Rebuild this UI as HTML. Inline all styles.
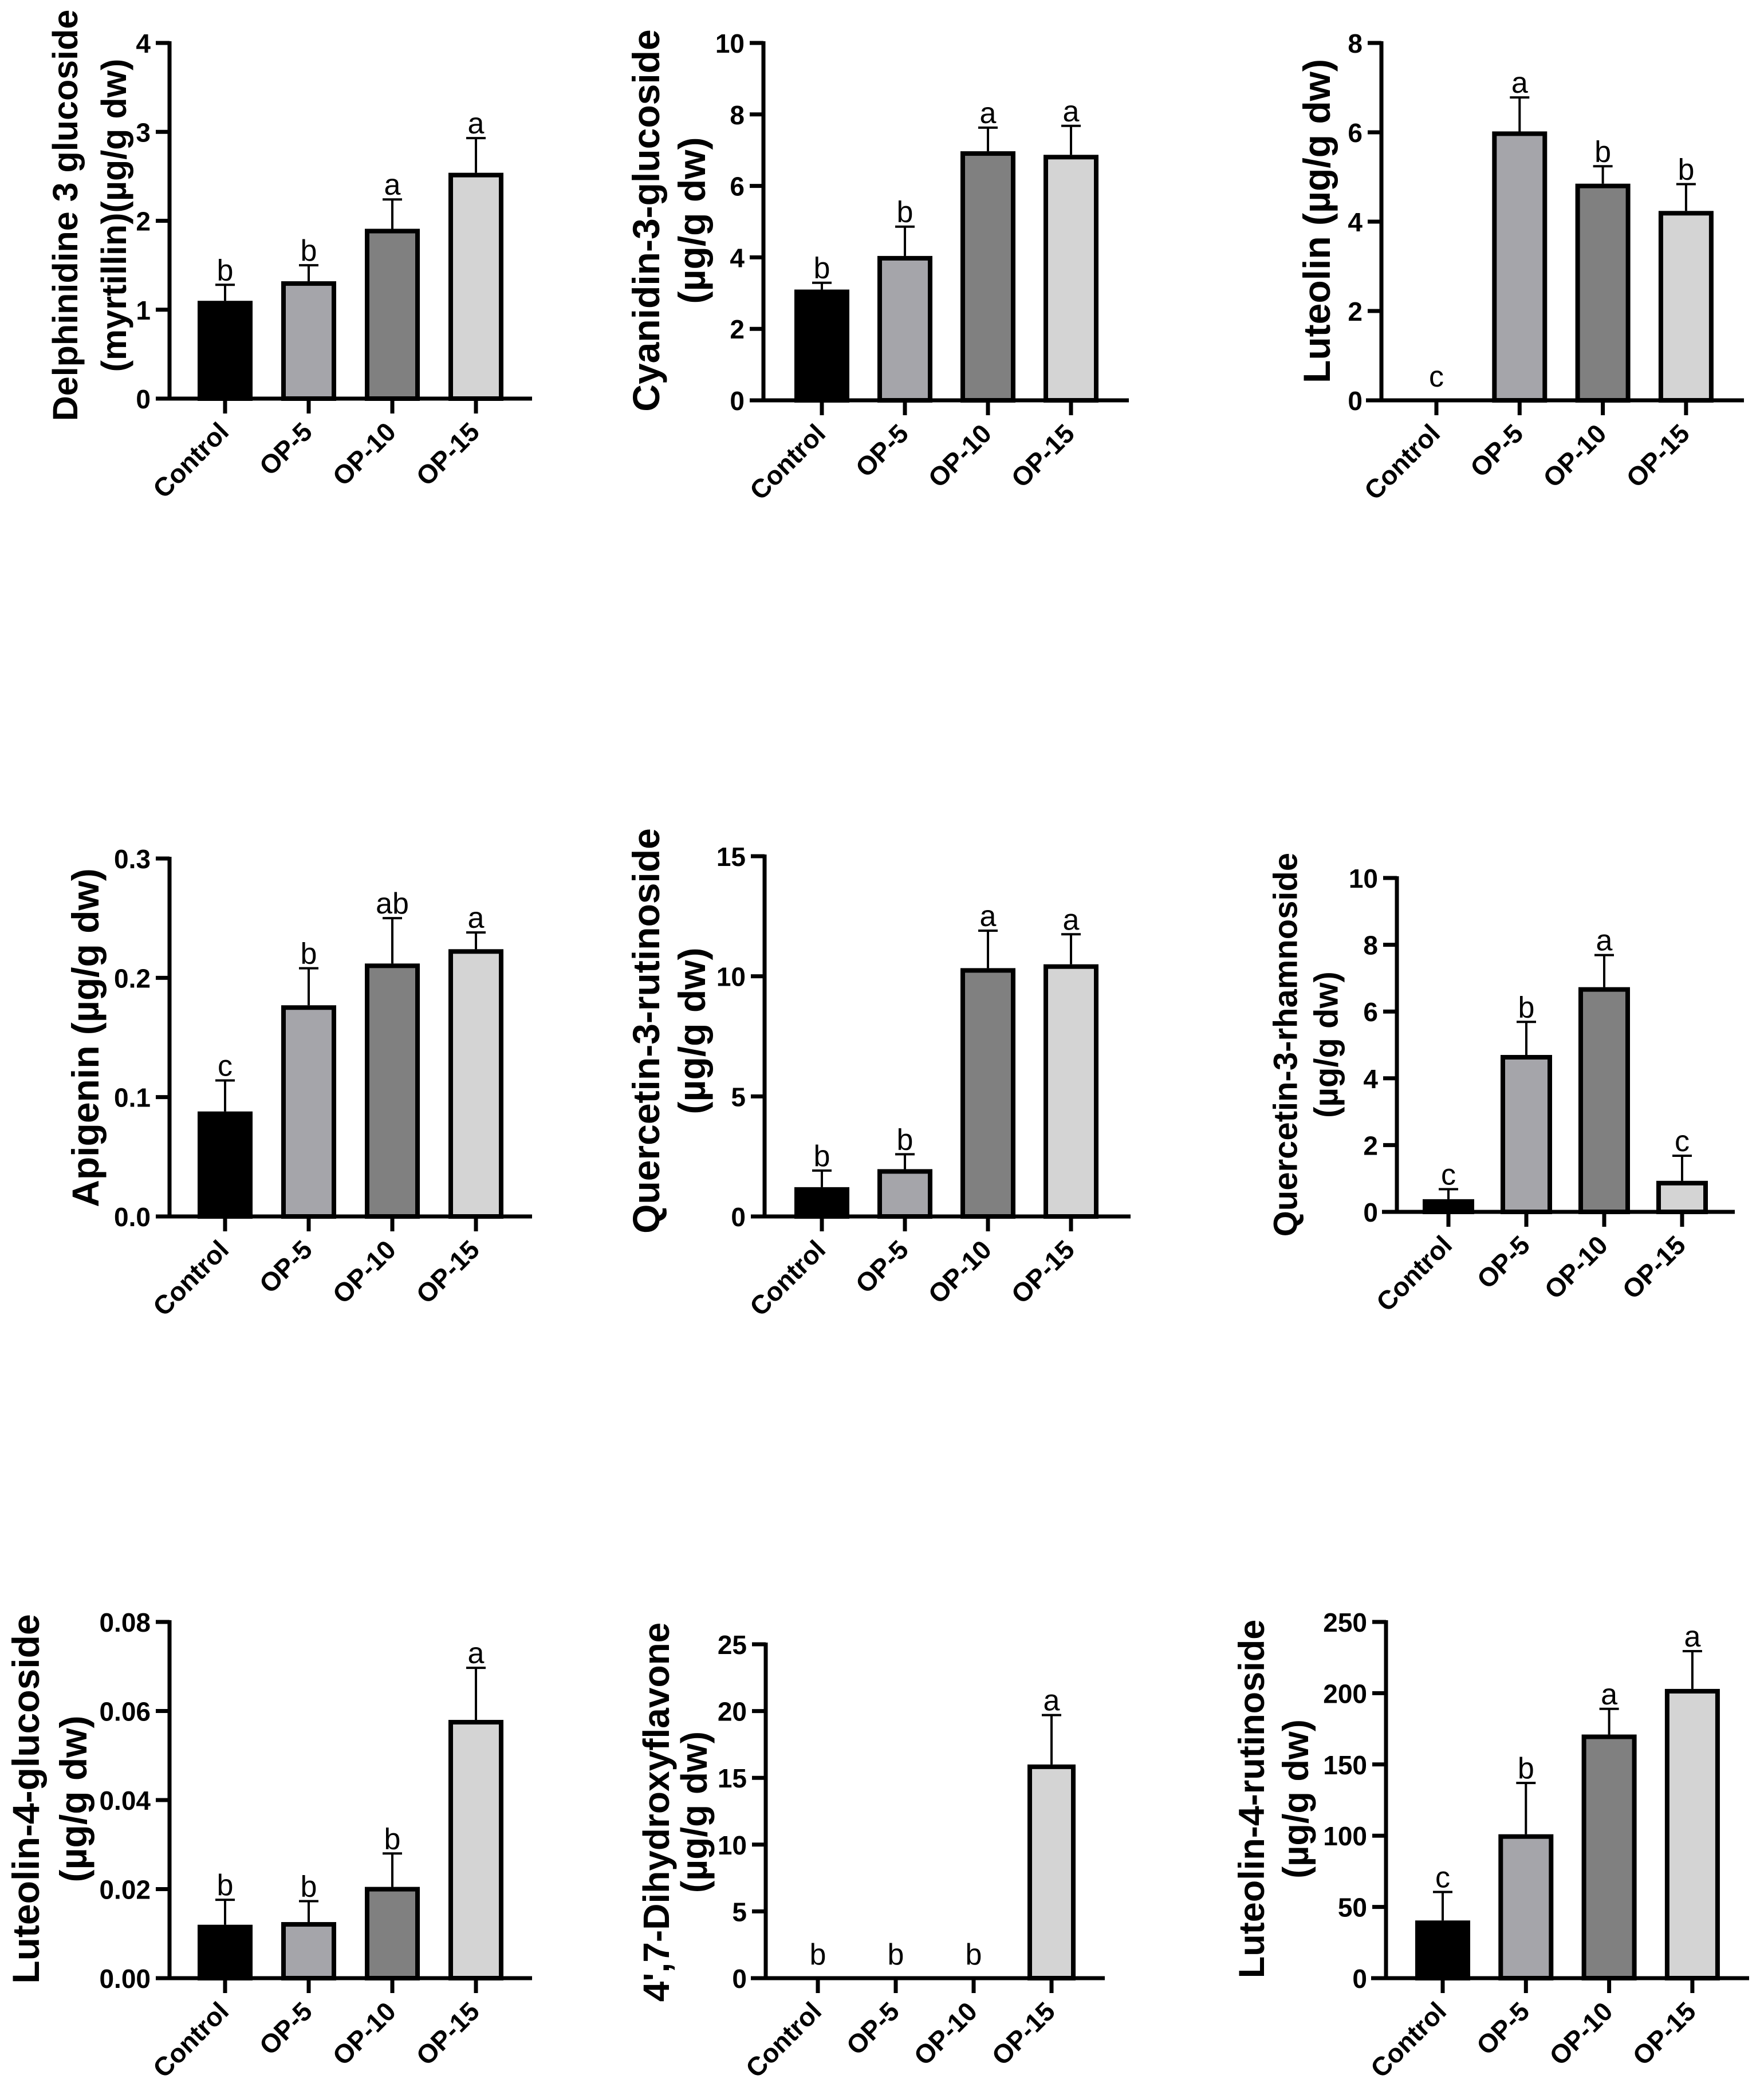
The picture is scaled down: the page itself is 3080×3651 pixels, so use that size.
<!DOCTYPE html>
<html>
<head>
<meta charset="utf-8">
<style>
html,body{margin:0;padding:0;background:#fff;}
svg{display:block;}
text{font-family:"Liberation Sans",Arial,sans-serif;fill:#000;}
.tick{font-size:46px;font-weight:bold;}
.cat{font-size:46px;font-weight:bold;}
.ttl{font-weight:bold;}
.sig{font-size:52px;}
</style>
</head>
<body>
<svg id="fig" width="3080" height="3651" viewBox="0 0 3080 3651" xmlns="http://www.w3.org/2000/svg"></svg>
<script>
const categories = ["Control","OP-5","OP-10","OP-15"];
const fills = ["#000000","#a5a5aa","#808080","#d4d4d4"];

const c1Values = [1.10, 1.32, 1.91, 2.54];
const c1Errors = [0.18, 0.18, 0.33, 0.39];
const c1Letters = ["b","b","a","a"];
const c1Ticks = [0,1,2,3,4];

const c2Values = [3.10, 4.04, 6.97, 6.87];
const c2Errors = [0.19, 0.82, 0.66, 0.81];
const c2Letters = ["b","b","a","a"];
const c2Ticks = [0,2,4,6,8,10];

const c3Values = [0, 6.02, 4.85, 4.24];
const c3Errors = [0, 0.76, 0.39, 0.60];
const c3Letters = ["c","a","b","b"];
const c3Ticks = [0,2,4,6,8];

const c4Values = [0.088, 0.177, 0.212, 0.224];
const c4Errors = [0.026, 0.031, 0.038, 0.014];
const c4Letters = ["c","b","ab","a"];
const c4Ticks = [0,0.1,0.2,0.3];

const c5Values = [1.22, 1.97, 10.34, 10.5];
const c5Errors = [0.69, 0.62, 1.56, 1.25];
const c5Letters = ["b","b","a","a"];
const c5Ticks = [0,5,10,15];

const c6Values = [0.38, 4.70, 6.73, 0.93];
const c6Errors = [0.30, 0.99, 0.96, 0.75];
const c6Letters = ["c","b","a","c"];
const c6Ticks = [0,2,4,6,8,10];

const c7Values = [0.012, 0.0126, 0.0205, 0.058];
const c7Errors = [0.0056, 0.0047, 0.0075, 0.0117];
const c7Letters = ["b","b","b","a"];
const c7Ticks = [0,0.02,0.04,0.06,0.08];

const c8Values = [0, 0, 0, 16.0];
const c8Errors = [0, 0, 0, 3.7];
const c8Letters = ["b","b","b","a"];
const c8Ticks = [0,5,10,15,20,25];

const c9Values = [40.5, 101, 171, 203];
const c9Errors = [20, 36, 18, 26.5];
const c9Letters = ["c","b","a","a"];
const c9Ticks = [0,50,100,150,200,250];

const NS = "http://www.w3.org/2000/svg";
const svg = document.getElementById("fig");
function mk(tag, attrs, parent){
  const e = document.createElementNS(NS, tag);
  for (const k in attrs) e.setAttribute(k, attrs[k]);
  (parent||svg).appendChild(e);
  return e;
}

function drawChart(id, L, values, errors, letters, ticks, decimals, titleLines){
  const g = mk("g", {});
  
  
  const yScale = v => L.y0 - (v / L.max) * (L.y0 - L.yT);
  const xScale = i => L.c0 + i * L.step;

  titleLines.forEach((line, k) => {
    const t = mk("text", {x: L.tx[k], y: L.ty, "text-anchor":"middle", "dominant-baseline":"central",
      transform:"rotate(-90 " + L.tx[k] + " " + L.ty + ")", class:"ttl", "font-size": L.tf}, g);
    t.textContent = line;
    
    
  });

  values.forEach((v, i) => {
    const cx = xScale(i), top = yScale(v), bw = L.bw;
    if (v > 0) {
      const et = yScale(v + errors[i]);
      const eb = mk("g", {}, g);
      
      
      mk("line", {x1:cx, x2:cx, y1:top, y2:et, stroke:"#000", "stroke-width":4}, eb);
      mk("line", {x1:cx-17, x2:cx+17, y1:et, y2:et, stroke:"#000", "stroke-width":4}, eb);
      const r = mk("rect", {x:cx-bw/2+4, y:top+4, width:bw-8, height:Math.max(0, L.y0-top-4), fill:fills[i], stroke:"#000", "stroke-width":8}, g);
      
      
    }
    const ly = v > 0 ? yScale(v + errors[i]) - 8 : L.y0 - 24;
    const s = mk("text", {x:cx, y:ly, "text-anchor":"middle", class:"sig"}, g);
    s.textContent = letters[i];
    
    
  });

  const ya = mk("line", {x1:L.ax, x2:L.ax, y1:L.yT-3, y2:L.y0+3, stroke:"#000", "stroke-width":7}, g);
  
  
  const xa = mk("line", {x1:L.xs, x2:L.xe, y1:L.y0, y2:L.y0, stroke:"#000", "stroke-width":7}, g);
  
  

  ticks.forEach(tv => {
    const y = yScale(tv);
    mk("line", {x1:L.ax-24, x2:L.ax, y1:y, y2:y, stroke:"#000", "stroke-width":7}, g);
    const t = mk("text", {x:L.ax-33, y:y+1, "text-anchor":"end", "dominant-baseline":"central", class:"tick"}, g);
    t.textContent = tv.toFixed(decimals);
    
    
  });

  categories.forEach((c, i) => {
    const cx = xScale(i);
    mk("line", {x1:cx, x2:cx, y1:L.y0, y2:L.y0+26, stroke:"#000", "stroke-width":7}, g);
    const ax = cx + 9, ay = L.y0 + 61;
    const t = mk("text", {x:ax, y:ay, "text-anchor":"end", transform:"rotate(-45 " + ax + " " + ay + ")", class:"cat"}, g);
    t.textContent = c;
    
    
  });
}

drawChart("chart-delphinidine", {ax:296,y0:696,yT:75,max:4,xs:272,xe:929,c0:393,step:146,bw:96,tx:[114,199],ty:376,tf:61},
  c1Values, c1Errors, c1Letters, c1Ticks, 0, ["Delphinidine 3 glucoside","(myrtillin)(µg/g dw)"]);
drawChart("chart-cyanidin", {ax:1333,y0:699,yT:75,max:10,xs:1311,xe:1971,c0:1435,step:145,bw:96,tx:[1128,1208],ty:385,tf:66},
  c2Values, c2Errors, c2Letters, c2Ticks, 0, ["Cyanidin-3-glucoside","(µg/g dw)"]);
drawChart("chart-luteolin", {ax:2412,y0:699,yT:75,max:8,xs:2385,xe:3045,c0:2508,step:145.3,bw:96,tx:[2299],ty:386,tf:66},
  c3Values, c3Errors, c3Letters, c3Ticks, 0, ["Luteolin (µg/g dw)"]);
drawChart("chart-apigenin", {ax:296,y0:2124,yT:1499,max:0.3,xs:272,xe:929,c0:393,step:146,bw:96,tx:[149],ty:1812,tf:66},
  c4Values, c4Errors, c4Letters, c4Ticks, 1, ["Apigenin (µg/g dw)"]);
drawChart("chart-quercetin-rutinoside", {ax:1335,y0:2124,yT:1495,max:15,xs:1311,xe:1974,c0:1435,step:145,bw:96,tx:[1128,1208],ty:1800,tf:66},
  c5Values, c5Errors, c5Letters, c5Ticks, 0, ["Quercetin-3-rutinoside","(µg/g dw)"]);
drawChart("chart-quercetin-rhamnoside", {ax:2439,y0:2116,yT:1533,max:10,xs:2413,xe:3029,c0:2529,step:136,bw:90,tx:[2245,2316],ty:1824,tf:58},
  c6Values, c6Errors, c6Letters, c6Ticks, 0, ["Quercetin-3-rhamnoside","(µg/g dw)"]);
drawChart("chart-luteolin-glucoside", {ax:296,y0:3454,yT:2832,max:0.08,xs:272,xe:929,c0:393,step:146,bw:96,tx:[45,128],ty:3141,tf:66},
  c7Values, c7Errors, c7Letters, c7Ticks, 2, ["Luteolin-4-glucoside","(µg/g dw)"]);
drawChart("chart-dihydroxyflavone", {ax:1337,y0:3454,yT:2871,max:25,xs:1311,xe:1929,c0:1428,step:136,bw:84,tx:[1146,1212],ty:3164,tf:64},
  c8Values, c8Errors, c8Letters, c8Ticks, 0, ["4',7-Dihydroxyflavone","(µg/g dw)"]);
drawChart("chart-luteolin-rutinoside", {ax:2420,y0:3454,yT:2832,max:250,xs:2394,xe:3054,c0:2519,step:145.3,bw:96,tx:[2186,2263],ty:3141,tf:63},
  c9Values, c9Errors, c9Letters, c9Ticks, 0, ["Luteolin-4-rutinoside","(µg/g dw)"]);
</script>
</body>
</html>
